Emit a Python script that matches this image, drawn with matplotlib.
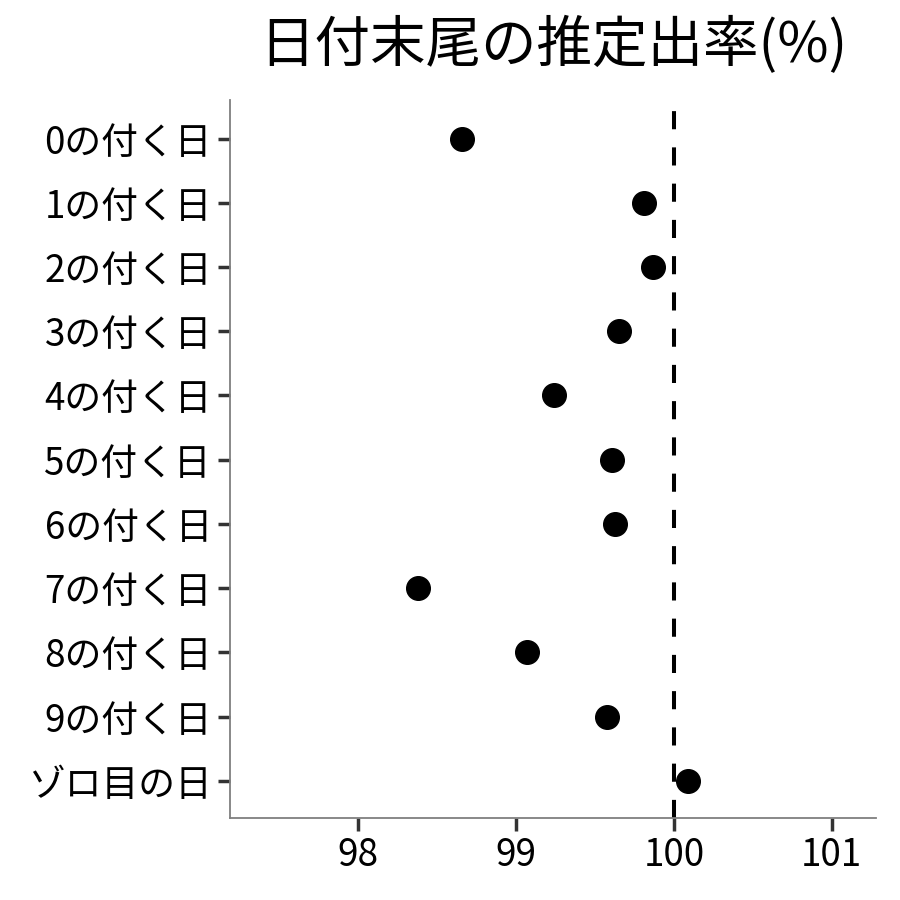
import matplotlib
matplotlib.use("Agg")
import matplotlib.pyplot as plt

plt.rcParams['font.family'] = ['Noto Sans CJK JP', 'DejaVu Sans']

# 日付末尾ごとの推定出率
labels = ['0の付く日', '1の付く日', '2の付く日', '3の付く日', '4の付く日',
          '5の付く日', '6の付く日', '7の付く日', '8の付く日', '9の付く日',
          'ゾロ目の日']
rates = [98.66, 99.81, 99.87, 99.65, 99.24, 99.61, 99.63, 98.38, 99.07, 99.58, 100.09]
xticks = [98, 99, 100, 101]

fig = plt.figure(figsize=(9, 9), dpi=100)
ax = fig.add_axes([230/900, 82/900, 646/900, 718/900])

ypos = list(range(len(labels)))
ax.axvline(100, color='black', lw=2.9, dashes=(4.5, 4.5), zorder=1)
ax.plot(rates, ypos, 'o', color='black', markersize=17, zorder=2)

ax.set_xlim(97.19, 101.28)
ax.set_ylim(len(labels) - 0.42, -0.6)
ax.set_yticks(ypos)
ax.set_yticklabels(labels)
ax.set_xticks(xticks)
ax.set_xticklabels([str(v) for v in xticks])

for s in ['top', 'right']:
    ax.spines[s].set_visible(False)
for s in ['left', 'bottom']:
    ax.spines[s].set_color('#7f7f7f')
    ax.spines[s].set_linewidth(1.3)
ax.tick_params(axis='both', colors='#333333', width=2.5, length=9,
               labelsize=26.5, labelcolor='black', pad=4)

ax.set_title('日付末尾の推定出率(%)', fontsize=40, pad=27)

fig.savefig('out.png', dpi=100)
